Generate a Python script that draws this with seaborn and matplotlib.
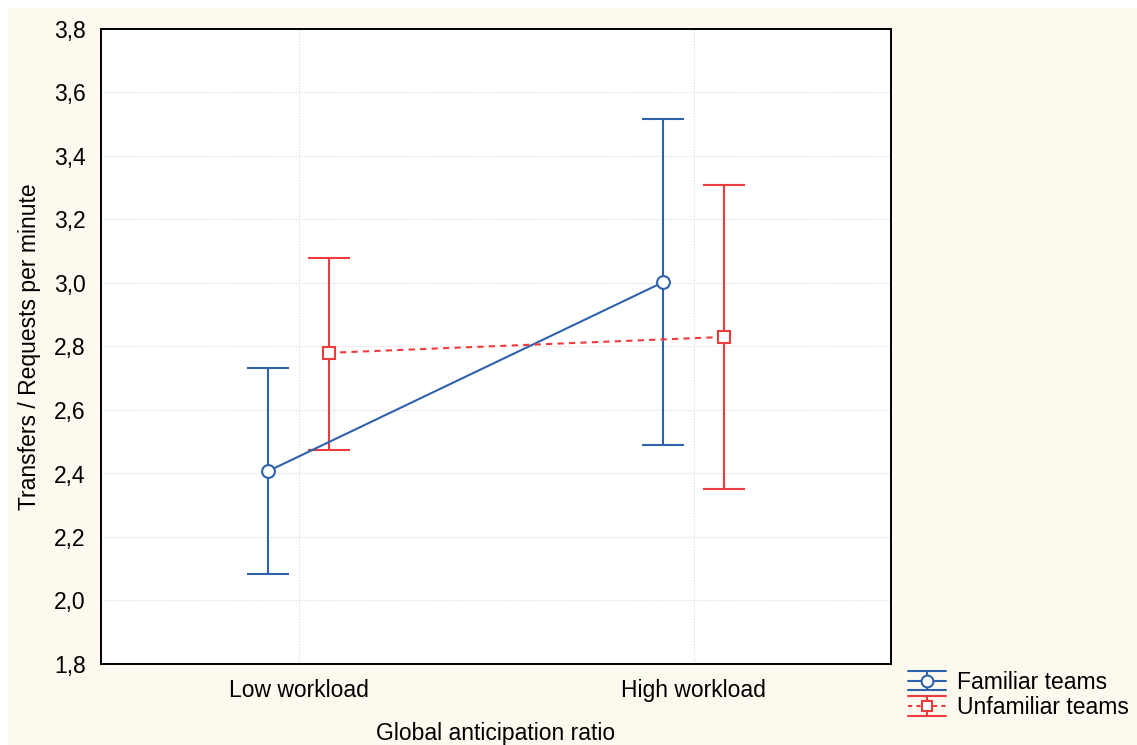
import matplotlib
matplotlib.use("Agg")
import matplotlib.pyplot as plt
import matplotlib.patches as mpatches
from matplotlib.lines import Line2D
from matplotlib.legend_handler import HandlerBase
from matplotlib.ticker import FuncFormatter, FixedLocator
import seaborn as sns
import pandas as pd
import numpy as np

categories = ["Low workload", "High workload"]
groups = ["Familiar teams", "Unfamiliar teams"]
familiar_mean = [2.408, 3.003]
familiar_low = [2.083, 2.490]
familiar_high = [2.732, 3.517]
unfamiliar_mean = [2.780, 2.830]
unfamiliar_low = [2.474, 2.351]
unfamiliar_high = [3.079, 3.309]
y_ticks = [1.8, 2.0, 2.2, 2.4, 2.6, 2.8, 3.0, 3.2, 3.4, 3.6, 3.8]

sns.set_theme(style="white")
plt.rcParams['font.family'] = ['Liberation Sans', 'DejaVu Sans']
plt.rcParams['text.color'] = 'black'

blue = "#2f62ad"
red = "#ee3b3d"
cream = "#fdf9ee"
LW = 1.5
FS = 16.5

fig = plt.figure(figsize=(11.37, 7.45), dpi=100, facecolor="white")
fig.patches.append(mpatches.Rectangle((8/1137, 0), 1 - 8/1137, 1 - 8/745,
                                      transform=fig.transFigure, facecolor=cream,
                                      edgecolor="none", zorder=-10))
ax = fig.add_axes([101/1137, 1 - 664/745, 790/1137, 635/745])
ax.set_facecolor("white")

offsets = {"Familiar teams": -0.076, "Unfamiliar teams": 0.076}
rows = []
for i, c in enumerate(categories):
    rows.append(dict(group="Familiar teams", cat=c, idx=i, mean=familiar_mean[i],
                     lo=familiar_low[i], hi=familiar_high[i]))
    rows.append(dict(group="Unfamiliar teams", cat=c, idx=i, mean=unfamiliar_mean[i],
                     lo=unfamiliar_low[i], hi=unfamiliar_high[i]))
df = pd.DataFrame(rows)
df["x"] = df["idx"] + df["group"].map(offsets)

styles = {
    "Familiar teams": dict(color=blue, marker="o", ls="-", ms=9.2),
    "Unfamiliar teams": dict(color=red, marker="s", ls=(0, (3, 2.5)), ms=8.0),
}

for g in groups:
    sub = df[df["group"] == g]
    st = styles[g]
    ax.errorbar(sub["x"], sub["mean"],
                yerr=[sub["mean"] - sub["lo"], sub["hi"] - sub["mean"]],
                fmt="none", ecolor=st["color"], elinewidth=LW, capsize=14.8,
                capthick=LW, zorder=2)
    sns.lineplot(data=sub, x="x", y="mean", ax=ax, color=st["color"],
                 linestyle=st["ls"], linewidth=LW, marker=st["marker"],
                 markersize=st["ms"],
                 markerfacecolor="white", markeredgecolor=st["color"],
                 markeredgewidth=1.5, legend=False, zorder=3)

ax.set_xlim(-0.5, 1.5)
ax.set_ylim(1.8, 3.8)
ax.set_xticks([0, 1])
ax.set_xticklabels(categories)
ax.yaxis.set_major_locator(FixedLocator(y_ticks))
ax.yaxis.set_major_formatter(FuncFormatter(lambda v, p: f"{v:.1f}".replace(".", ",")))
ax.grid(True, color="#d8d8d8", linestyle=(0, (1, 1.5)), linewidth=0.8)
ax.tick_params(axis="both", direction="in", length=4, width=1, labelsize=FS,
               colors="black", pad=11)
ax.tick_params(axis="x", pad=10.5)
for s in ax.spines.values():
    s.set_color("black")
    s.set_linewidth(1.4)
ax.set_xlabel("Global anticipation ratio", fontsize=FS, labelpad=14.5, color="black")
ax.set_ylabel("Transfers / Requests per minute", fontsize=FS, labelpad=9, color="black")


class ErrHandler(HandlerBase):
    def __init__(self, color, marker, ls, ms):
        super().__init__()
        self.color, self.marker, self.ls, self.ms = color, marker, ls, ms

    def create_artists(self, legend, orig_handle, xdescent, ydescent, width, height,
                       fontsize, trans):
        yc = height / 2 - ydescent
        x0, x1 = -xdescent, -xdescent + width
        xm = (x0 + x1) / 2
        d = height * 0.6
        arts = [
            Line2D([x0, x1], [yc + d, yc + d], color=self.color, lw=LW),
            Line2D([x0, x1], [yc - d, yc - d], color=self.color, lw=LW),
            Line2D([xm, xm], [yc - d, yc + d], color=self.color, lw=LW),
            Line2D([x0, x1], [yc, yc], color=self.color, lw=LW, ls=self.ls),
            Line2D([xm], [yc], color=self.color, marker=self.marker, ms=self.ms,
                   markerfacecolor="white", markeredgecolor=self.color,
                   markeredgewidth=1.5, ls="none"),
        ]
        for a in arts:
            a.set_transform(trans)
        return arts


h1 = Line2D([], [], color=blue)
h2 = Line2D([], [], color=red)
fig.legend([h1, h2], groups, loc="lower left", bbox_to_anchor=(908/1137, 26/745),
           frameon=False, fontsize=FS, handlelength=1.66, handletextpad=0.48,
           labelspacing=0.1, borderaxespad=0, borderpad=0, labelcolor="black",
           handler_map={h1: ErrHandler(blue, "o", "-", 8.5),
                        h2: ErrHandler(red, "s", (0, (2, 2)), 7.5)})

fig.savefig("out.png", dpi=100, facecolor=fig.get_facecolor())
